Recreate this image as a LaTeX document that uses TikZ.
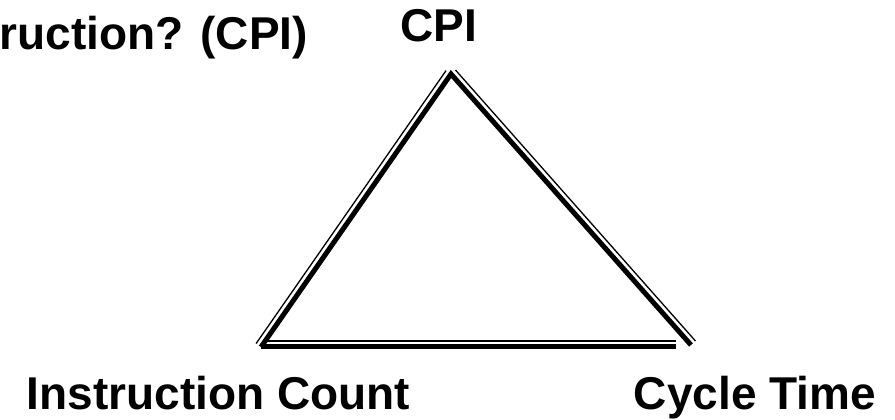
\documentclass[tikz,border=0pt]{standalone}
\usepackage{fontspec}
\setmainfont{Liberation Sans}
\usepackage{tikz}
\usetikzlibrary{calc}
\tikzset{
  corner_label/.style = {inner sep=0pt, font=\fontsize{46}{50}\selectfont\bfseries},% texte des sommets
  thick_side/.style = {line width=5pt, line join=miter, line cap=butt},% trait epais
  thin_side/.style = {line width=1.3pt, line cap=butt}% trait fin
}
\begin{document}
\begin{tikzpicture}[x=1pt, y=1pt]
      \useasboundingbox (0,0) rectangle (895,420);
      % sommets du triangle
      \coordinate (apex) at (451,346);
      \coordinate (left) at (261,73);
      \coordinate (right) at (691,75);
      \coordinate (bottom_end) at (676,73);
      \coordinate (thin_start) at (267,79);
      \coordinate (thin_end) at (676,79);
      % cotes
      \draw [thick_side] (left) -- (apex) -- (right);
      \draw [thick_side] (left) -- (bottom_end);
      \draw [thin_side] ($(left)!6pt!90:(apex)$) -- ($(apex)!6pt!-90:(left)$);
      \draw [thin_side] ($(apex)!6pt!90:(right)$) -- ($(right)!6pt!-90:(apex)$);
      \draw [thin_side] (thin_start) -- (thin_end);
      % textes
      \node [corner_label, anchor=base east] (question) at (308,370) {ruction? (CPI)};
      \node [corner_label, anchor=base] (cpi) at (438.5,378) {CPI};
      \node [corner_label, anchor=base] (count) at (218.5,10) {Instruction Count};
      \node [corner_label, anchor=base] (cycle) at (755,10) {Cycle Time};
\end{tikzpicture}
\end{document}
